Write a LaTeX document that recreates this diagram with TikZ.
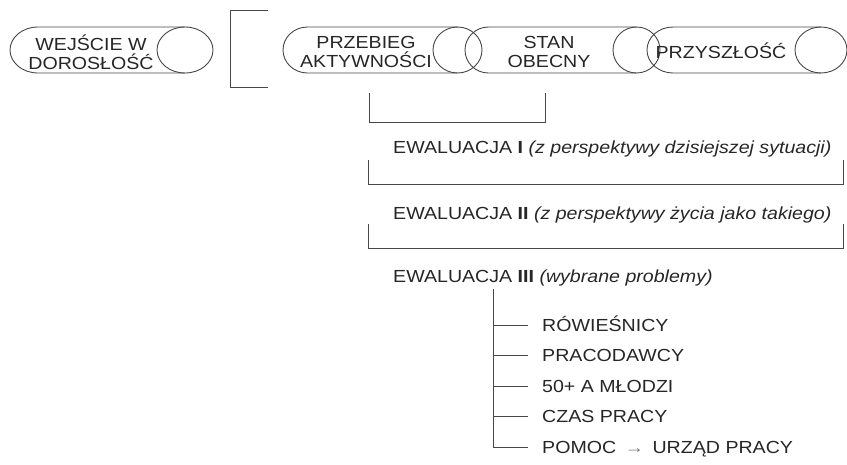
\documentclass[tikz,border=0pt]{standalone}
\usepackage{fontspec}
\setmainfont{Liberation Sans}[FakeStretch=1.12]
\definecolor{ink}{gray}{0.15}
\definecolor{rule}{gray}{0.28}

% horizontal roll: left edge, centre of the end ellipse, its x radius
\newcommand{\roll}[3]{%
  \draw[rollline] ({#1+#3},27) -- (#2,27)
        ({#1+#3},73) -- (#2,73)
        ({#1+#3},27) arc[start angle=270,end angle=90,x radius=#3,y radius=23];
  \draw[rollline] (#2,50) ellipse[x radius=#3,y radius=23];
}

\begin{document}
\begin{tikzpicture}[x=1pt,y=-1pt,
  rollline/.style={draw=rule,line width=0.9pt},
  wire/.style={draw=rule,line width=0.9pt},
  rolltext/.style={text=ink,inner sep=0pt,align=center,
    font=\fontsize{17.5}{18.5}\selectfont},
  label/.style={text=ink,inner sep=0pt,anchor=base west,
    font=\fontsize{17.5}{18}\selectfont},
  item/.style={text=ink,inner sep=0pt,anchor=west,text height=12.5pt,text depth=0pt,
    font=\fontsize{17.5}{18}\selectfont}]
\useasboundingbox (0,0) rectangle (847,464);

% stages of life as rolls
\roll{10}{185}{28}
\roll{283}{457.5}{24.5}
\roll{465}{636.5}{23.5}
\roll{647}{821}{26}

\node[rolltext] (wejscie) at (91,52) {WEJŚCIE W\\DOROSŁOŚĆ};
\node[rolltext] (przebieg) at (366,52) {PRZEBIEG\\AKTYWNOŚCI};
\node[rolltext] (stan) at (549,52) {STAN\\OBECNY};
\node[rolltext] (przyszlosc) at (721,51) {PRZYSZŁOŚĆ};

% bracket between the first roll and the rest
\coordinate (lbtop) at (268,10);
\coordinate (lbbot) at (268,87);
\draw[wire] (lbtop) -- (230,10) -- (230,87) -- (lbbot);

% bracket under the second and third roll
\coordinate (b1l) at (369,93);
\coordinate (b1r) at (545,93);
\draw[wire] (b1l) |- (545,122) -- (b1r);

% evaluations
\node[label] (ew1) at (393,153) {EWALUACJA \textbf{I} \textit{(z perspektywy dzisiejszej sytuacji)}};
\coordinate (b2l) at (368,160);
\coordinate (b2r) at (843,160);
\draw[wire] (b2l) |- (843,184) -- (b2r);

\node[label] (ew2) at (393,219) {EWALUACJA \textbf{II} \textit{(z perspektywy życia jako takiego)}};
\coordinate (b3l) at (368,224);
\coordinate (b3r) at (843,224);
\draw[wire] (b3l) |- (843,248) -- (b3r);

\node[label] (ew3) at (393,282) {EWALUACJA \textbf{III} \textit{(wybrane problemy)}};

% chosen problems
\node[item] (r1) at (542,325) {RÓWIEŚNICY};
\node[item] (r2) at (542,355) {PRACODAWCY};
\node[item] (r3) at (542,386) {50+ A MŁODZI};
\node[item] (r4) at (542,416) {CZAS PRACY};
\node[item] (r5) at (542,447) {POMOC {\color{gray}\,→\,} URZĄD PRACY};

\coordinate (trunk) at (493,289);
\draw[wire] (trunk) |- ([xshift=-14pt]r5.west);
\foreach \k in {1,...,4}
  \draw[wire] (trunk |- r\k.west) -- ([xshift=-14pt]r\k.west);
\end{tikzpicture}
\end{document}
